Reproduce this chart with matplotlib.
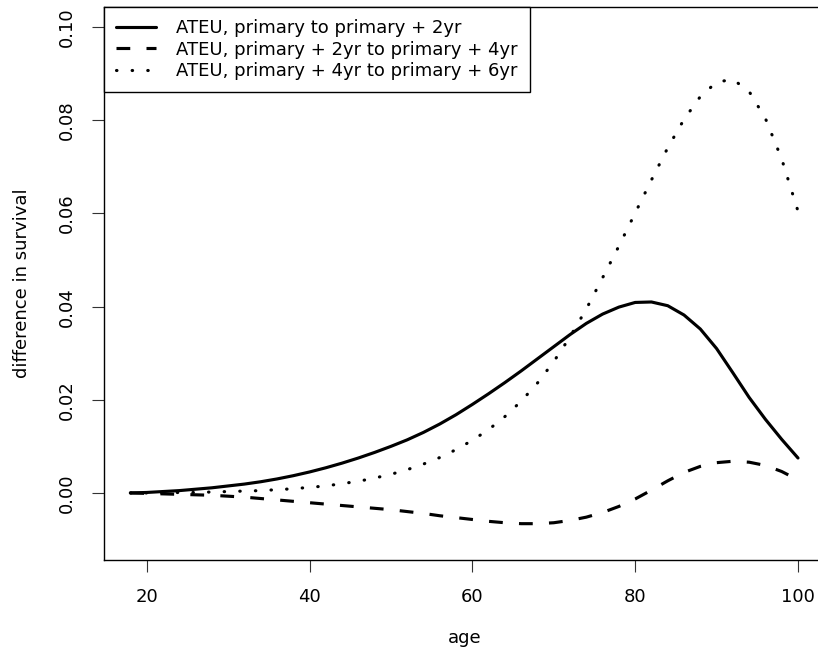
import matplotlib
matplotlib.use("Agg")
import matplotlib.pyplot as plt

# ages at which the survival differences were evaluated
age = [18, 20, 22, 24, 26, 28, 30, 32, 34, 36, 38, 40, 42, 44, 46, 48, 50,
       52, 54, 56, 58, 60, 62, 64, 66, 68, 70, 72, 74, 76, 78, 80, 82, 84,
       86, 88, 90, 92, 94, 96, 98, 100]

# primary -> primary + 2yr
d_p_2 = [0.0000, 0.0001, 0.0003, 0.0005, 0.0008, 0.0011, 0.0015, 0.0019,
         0.0024, 0.0030, 0.0037, 0.0045, 0.0054, 0.0064, 0.0075, 0.0087,
         0.0100, 0.0114, 0.0130, 0.0148, 0.0168, 0.0190, 0.0213, 0.0237,
         0.0262, 0.0288, 0.0314, 0.0340, 0.0364, 0.0384, 0.0399, 0.0409,
         0.0410, 0.0402, 0.0382, 0.0352, 0.0310, 0.0258, 0.0205, 0.0158,
         0.0115, 0.0075]

# primary + 2yr -> primary + 4yr
d_2_4 = [0.0000, -0.0001, -0.0002, -0.0003, -0.0004, -0.0005, -0.0007,
         -0.0009, -0.0012, -0.0015, -0.0018, -0.0021, -0.0024, -0.0027,
         -0.0030, -0.0033, -0.0036, -0.0040, -0.0044, -0.0049, -0.0053,
         -0.0057, -0.0061, -0.0064, -0.0066, -0.0066, -0.0064, -0.0059,
         -0.0052, -0.0042, -0.0029, -0.0013, 0.0006, 0.0026, 0.0044,
         0.0057, 0.0065, 0.0068, 0.0066, 0.0059, 0.0046, 0.0028]

# primary + 4yr -> primary + 6yr
d_4_6 = [0.0000, 0.0000, 0.0000, 0.0001, 0.0001, 0.0002, 0.0003, 0.0004,
         0.0005, 0.0007, 0.0009, 0.0012, 0.0015, 0.0020, 0.0025, 0.0032,
         0.0040, 0.0050, 0.0062, 0.0076, 0.0093, 0.0113, 0.0136, 0.0164,
         0.0197, 0.0236, 0.0282, 0.0335, 0.0395, 0.0462, 0.0530, 0.0601,
         0.0672, 0.0741, 0.0802, 0.0851, 0.0882, 0.0888, 0.0862, 0.0804,
         0.0717, 0.0605]

labels = ["ATEU, primary to primary + 2yr",
          "ATEU, primary + 2yr to primary + 4yr",
          "ATEU, primary + 4yr to primary + 6yr"]

plt.rcParams["font.family"] = "DejaVu Sans"
plt.rcParams["font.size"] = 13

fig = plt.figure(figsize=(8.18, 6.47), dpi=100)
# plot region runs a little past the right edge of the canvas
ax = fig.add_axes([103.7 / 818, 87 / 647, 721 / 818, 553.3 / 647])

lw = 2.25
ax.plot(age, d_p_2, color="black", lw=lw, solid_capstyle="round",
        solid_joinstyle="round", label=labels[0])
ax.plot(age, d_2_4, color="black", lw=lw, dashes=(4.4, 5.2),
        label=labels[1])
ax.plot(age, d_4_6, color="black", lw=lw, dashes=(0.15, 4.85),
        dash_capstyle="round", label=labels[2])

ax.set_xlim(14.72, 103.28)
ax.set_ylim(-0.0144, 0.1044)
ax.set_xticks([20, 40, 60, 80, 100])
ax.set_yticks([0.00, 0.02, 0.04, 0.06, 0.08, 0.10])
ax.set_yticklabels(["0.00", "0.02", "0.04", "0.06", "0.08", "0.10"],
                   rotation=90, va="center")
ax.tick_params(length=8.6, width=0.8, pad=11.5, color="#333333")

for s in ax.spines.values():
    s.set_linewidth(1.0)
ax.spines["right"].set_visible(False)

ax.set_xlabel("age")
ax.xaxis.set_label_coords(0.5, -(638 - 560) / 553.3)
ax.xaxis.label.set_va("center")
ax.set_ylabel("difference in survival")
ax.yaxis.set_label_coords((21.7 - 103.7) / 721, 0.5)
ax.yaxis.label.set_va("center")

leg = ax.legend(loc="upper left", bbox_to_anchor=(0, 1), borderaxespad=0,
                fancybox=False, edgecolor="black", framealpha=1,
                handlelength=2.2, handletextpad=1.1, borderpad=0.7,
                labelspacing=0.18)
leg.get_frame().set_linewidth(1.0)

fig.savefig("out.png", dpi=100)
